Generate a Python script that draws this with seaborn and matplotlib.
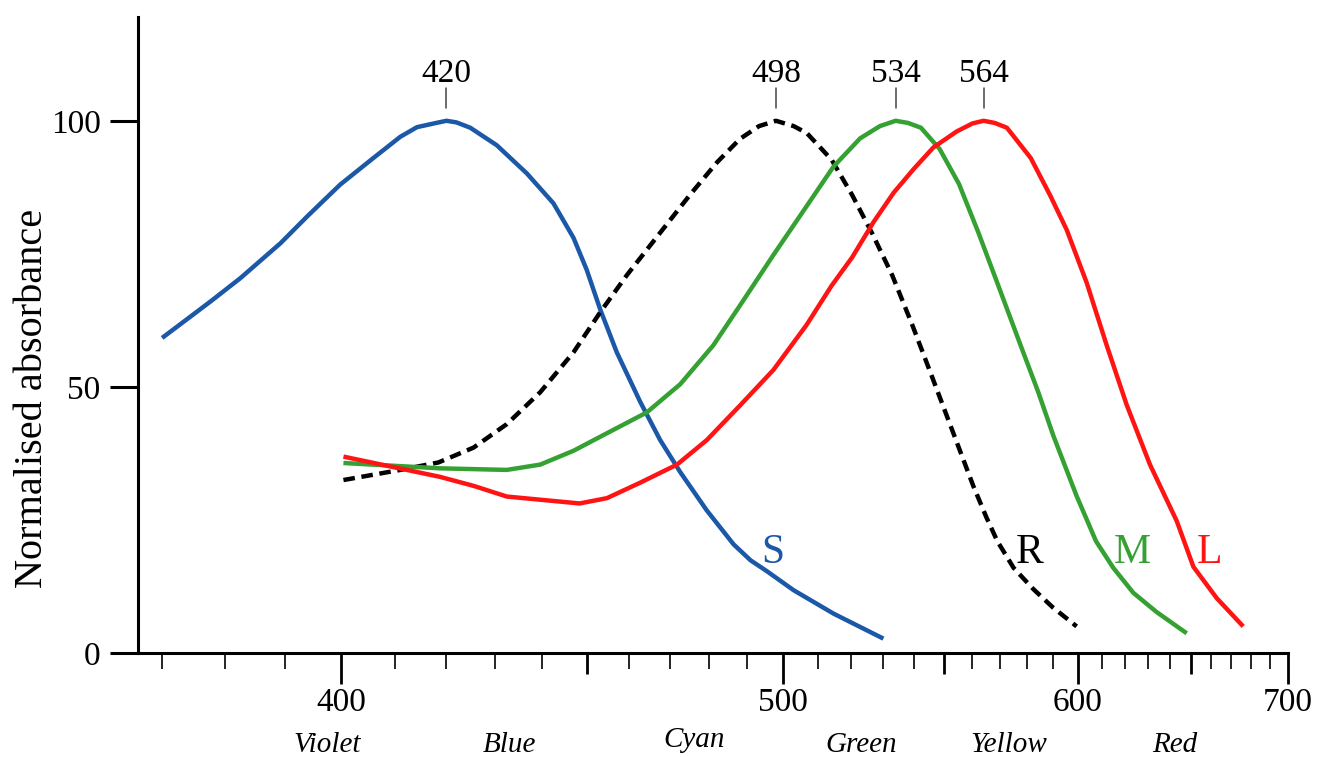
"""
Cone / rod absorbance spectra (normalised), wavelength axis on a 1/lambda scale
"""
import numpy as np
import pandas as pd
import matplotlib
matplotlib.use('Agg')
import matplotlib.pyplot as plt
import matplotlib.transforms as mtransforms
import seaborn as sns

# --- data (wavelength nm, normalised absorbance) ---
s_wl = [370, 377.6, 382.5, 389.3, 393.9, 399.8, 405.9, 411, 414.2, 418, 420, 422, 424.8, 430.3, 436.7,
        442.5, 447, 450, 453.1, 457, 462.6, 467.5, 472.5, 479.3, 486.4, 491, 495.4, 503, 514.7, 530.1]
s_abs = [59.2, 66.0, 70.4, 77.0, 82.0, 88.0, 93.0, 97.0, 98.8, 99.6, 100, 99.7, 98.7, 95.4, 90.1,
         84.5, 78.0, 72.0, 64.6, 56.5, 47.2, 40.0, 34.0, 26.8, 20.4, 17.4, 15.4, 11.8, 7.4, 2.7]

r_wl = [400.4, 411, 418.4, 425.5, 432.4, 439.6, 447, 453.1, 459.4, 466.7, 475, 482, 488.1, 493.3, 498,
        503, 506.8, 514.1, 520.3, 526.5, 532.9, 539.4, 546.1, 552.9, 560.3, 565, 569, 575, 582.5,
        590, 599.6]
r_abs = [32.5, 34.4, 35.8, 38.6, 43.0, 49.0, 56.5, 64.0, 71.0, 78.2, 86.1, 92.2, 96.6, 99.0, 100,
         99.0, 97.7, 92.7, 86.1, 78.9, 71.0, 61.7, 51.8, 41.9, 31.4, 25.5, 21.0, 16.0, 12.0,
         8.6, 5.0]

m_wl = [400.4, 418.7, 432.4, 439.6, 447, 454.7, 464.2, 472.5, 481, 488.1, 497.3, 506.8, 514.7, 522.8,
        529, 534, 538, 542.3, 548.6, 555.3, 562.2, 569, 577.5, 584.4, 590.3, 599.6, 607.6, 614.9,
        623.6, 634, 648]
m_abs = [35.7, 34.7, 34.4, 35.4, 38.0, 41.3, 45.2, 50.5, 57.8, 65.3, 74.8, 84.0, 91.4, 96.7,
         99.0, 100, 99.6, 98.7, 94.7, 88.1, 78.9, 69.5, 58.0, 49.0, 40.8, 29.5, 21.0, 16.0,
         11.3, 7.7, 3.7]

l_wl = [400.4, 418.7, 425.5, 432.4, 439.6, 448.4, 454.7, 462.6, 471.7, 479.3, 488.1, 497.3, 506.8,
        514.1, 520.3, 526.9, 533.4, 540, 546.5, 554.5, 560, 564, 568, 572.5, 581.5, 589, 595.6,
        603.7, 612.1, 620.7, 631, 643.3, 651.2, 662.6, 676]
l_abs = [36.9, 33.1, 31.4, 29.4, 28.8, 28.1, 29.1, 32.0, 35.4, 40.0, 46.5, 53.2, 61.7,
         69.0, 74.3, 80.9, 86.5, 91.0, 95.0, 98.0, 99.5, 100, 99.6, 98.7, 93.0, 86.0, 79.5,
         69.6, 57.8, 46.6, 35.4, 24.8, 16.2, 10.3, 5.0]

cones = ['S', 'R', 'M', 'L']
peak_wl = [420, 498, 534, 564]
label_wl = [497, 581, 623, 659]   # where the S/R/M/L letters sit
band_names = ['Violet', 'Blue', 'Cyan', 'Green', 'Yellow', 'Red']
band_wl = [397.5, 433, 476, 523, 573, 642.5]

x_major = [400, 450, 500, 550, 600, 650, 700]
x_minor = [w for w in range(370, 700, 10) if w % 50 != 0]
y_ticks = [0, 50, 100]

colors = {'S': '#1b58a8', 'R': 'black', 'M': '#35a132', 'L': '#ff1414'}
dashes = {'S': '', 'R': (2.6, 1.5), 'M': '', 'L': ''}

df = pd.concat([
    pd.DataFrame({'wl': s_wl, 'abs': s_abs, 'cone': 'S'}),
    pd.DataFrame({'wl': r_wl, 'abs': r_abs, 'cone': 'R'}),
    pd.DataFrame({'wl': m_wl, 'abs': m_abs, 'cone': 'M'}),
    pd.DataFrame({'wl': l_wl, 'abs': l_abs, 'cone': 'L'}),
], ignore_index=True)

sns.set_theme(style='ticks')
plt.rcParams['font.family'] = ['Liberation Serif', 'DejaVu Serif']
plt.rcParams['axes.edgecolor'] = 'black'
plt.rcParams['xtick.color'] = 'black'
plt.rcParams['ytick.color'] = 'black'

W, H = 1319, 757
fig = plt.figure(figsize=(W / 100, H / 100), dpi=100)
ax = fig.add_axes([138 / W, 1 - 653 / H, (1288 - 138) / W, (653 - 17) / H])

sns.lineplot(data=df, x='wl', y='abs', hue='cone', style='cone',
             palette=colors, dashes=dashes, hue_order=cones, style_order=cones,
             estimator=None, sort=False, linewidth=3.2, legend=False, ax=ax,
             solid_joinstyle='round', solid_capstyle='butt')

# wavelength axis is linear in 1/lambda
ax.set_xscale('function', functions=(lambda w: -1.0 / w, lambda u: -1.0 / u))
ax.set_xlim(366.3, 700)
ax.set_ylim(0, 119.5)

for side in ['top', 'right']:
    ax.spines[side].set_visible(False)
for side in ['left', 'bottom']:
    ax.spines[side].set_linewidth(2.2)

ax.set_xticks(x_major)
ax.set_xticklabels([str(w) if w % 100 == 0 else '' for w in x_major])
ax.set_xticks(x_minor, minor=True)
ax.tick_params(axis='x', which='major', length=22, width=2.0, pad=3, labelsize=24)
ax.tick_params(axis='x', which='minor', length=11.5, width=1.2)
for w, tick in zip(x_major, ax.xaxis.get_major_ticks()):
    if w % 100 != 0:
        tick.tick1line.set_markersize(15)

ax.set_yticks(y_ticks)
ax.tick_params(axis='y', length=20, width=2.2, pad=7, labelsize=24)

ax.set_xlabel('')
ax.set_ylabel('Normalised absorbance', fontsize=29, color='black', va='center')
ax.yaxis.set_label_coords(-0.0915, 0.40)

# peak wavelengths with small marker lines
for w in peak_wl:
    ax.text(w, 107.3, str(w), ha='center', va='baseline', fontsize=24, color='black')
    ax.plot([w, w], [102.4, 106.2], color='#444444', lw=1.1)

# curve letters
for c, w in zip(cones, label_wl):
    ax.text(w, 16.9, c, ha='center', va='baseline', fontsize=30, color=colors[c])

# colour band names under the axis
trans = mtransforms.blended_transform_factory(ax.transData, ax.transAxes)
for name, w in zip(band_names, band_wl):
    yy = -0.137 if name == 'Cyan' else -0.145
    ax.text(w, yy, name, transform=trans, ha='center', va='center',
            fontsize=21, style='italic', color='black')

fig.savefig('out.png', dpi=100)
